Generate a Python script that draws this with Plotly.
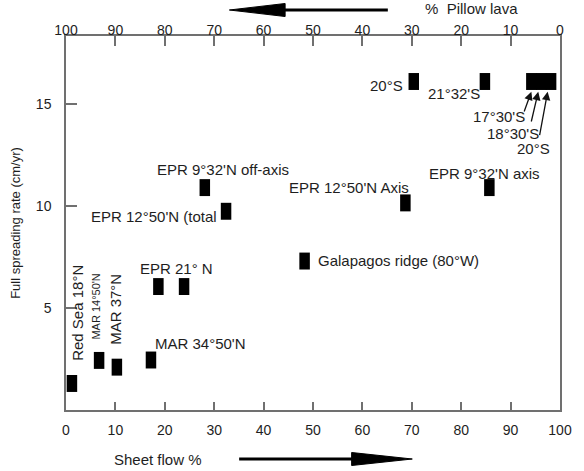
import plotly.graph_objects as go

# ---- data ----
sheet_flow = [1.2, 6.7, 10.3, 17.2, 18.7, 23.9, 32.4, 28.1, 68.7, 85.7, 48.3, 70.4, 84.8, 94.2, 96.2, 98.2]
spreading = [1.3, 2.43, 2.1, 2.45, 6.05, 6.05, 9.74, 10.9, 10.15, 10.9, 7.3, 16.1, 16.1, 16.1, 16.1, 16.1]

x_ticks = [0, 10, 20, 30, 40, 50, 60, 70, 80, 90, 100]
pillow_ticks = [100, 90, 80, 70, 60, 50, 40, 30, 20, 10, 0]
y_ticks = [5, 10, 15]

# label text, x, y, angle, font size
labels = [
    ("20°S", 64.9, 15.9, 0, 15),
    ("21°32'S", 78.6, 15.5, 0, 15),
    ("17°30'S", 87.6, 14.4, 0, 15),
    ("18°30'S", 90.4, 13.55, 0, 15),
    ("20°S", 94.7, 12.8, 0, 15),
    ("EPR 9°32'N axis", 84.7, 11.6, 0, 15),
    ("EPR 12°50'N Axis", 57.2, 10.9, 0, 15),
    ("Galapagos ridge (80°W)", 67.4, 7.33, 0, 15),
    ("EPR 9°32'N off-axis", 31.7, 11.8, 0, 15),
    ("EPR 12°50'N (total", 17.9, 9.49, 0, 15),
    ("EPR 21° N", 22.4, 6.94, 0, 15),
    ("MAR 34°50'N", 27.3, 3.26, 0, 15),
    ("Red Sea 18°N", 2.3, 4.78, -90, 15),
    ("MAR 14°50'N", 6.0, 5.05, -90, 11),
    ("MAR 37°N", 10.0, 4.93, -90, 15),
]

# arrows to the right-hand cluster: tip (data), tail offset (px)
cluster_arrows = [
    (94.2, 15.6, -7.7, 21.3),
    (95.6, 15.6, -7.3, 31.3),
    (97.5, 15.6, -8.3, 45.0),
]

FONT = "Liberation Sans, Arial, sans-serif"
AX = "#707070"
TXT = "#1e1e1e"

fig = go.Figure()
fig.add_trace(go.Scatter(
    x=sheet_flow, y=spreading, mode="markers",
    marker=dict(symbol="line-ns", size=12.1, color="black",
                line=dict(color="black", width=10.5)),
    hoverinfo="skip", showlegend=False,
))
# dummy trace on top axis so it is drawn
fig.add_trace(go.Scatter(x=[None], y=[None], xaxis="x2", yaxis="y",
                         mode="markers", showlegend=False, hoverinfo="skip"))

for t, x, y, ang, fs in labels:
    fig.add_annotation(x=x, y=y, text=t, showarrow=False, textangle=ang,
                       xanchor="center", yanchor="middle",
                       font=dict(family=FONT, size=fs, color=TXT))

for x, y, ax, ay in cluster_arrows:
    fig.add_annotation(x=x, y=y, text="", showarrow=True, ax=ax, ay=ay,
                       arrowhead=2, arrowsize=1.3, arrowwidth=1.3,
                       arrowcolor="#111", standoff=0)

# margin arrows (paper coordinates)
def px2paper(px, py):
    return (px - 66) / 505.0, (410 - py) / 374.0

# bottom arrow (right-pointing)
x0, y0 = px2paper(243, 459)
x1, _ = px2paper(362, 459)
fig.add_shape(type="line", xref="paper", yref="paper", x0=x0, y0=y0, x1=x1, y1=y0,
              line=dict(color="black", width=3))
hx, hy1 = px2paper(358, 452.5)
_, hy2 = px2paper(358, 465.5)
tx, ty = px2paper(420, 459)
fig.add_shape(type="path", xref="paper", yref="paper",
              path=f"M{hx},{hy1} L{tx},{ty} L{hx},{hy2} Z",
              fillcolor="black", line=dict(color="black", width=1))

# top arrow (left-pointing)
x0, y0 = px2paper(395, 10)
x1, _ = px2paper(286, 10)
fig.add_shape(type="line", xref="paper", yref="paper", x0=x0, y0=y0, x1=x1, y1=y0,
              line=dict(color="black", width=3))
hx, hy1 = px2paper(290, 3.5)
_, hy2 = px2paper(290, 16.5)
tx, ty = px2paper(233, 10)
fig.add_shape(type="path", xref="paper", yref="paper",
              path=f"M{hx},{hy1} L{tx},{ty} L{hx},{hy2} Z",
              fillcolor="black", line=dict(color="black", width=1))

# margin texts
lx, ly = px2paper(113, 459)
fig.add_annotation(xref="paper", yref="paper", x=lx, y=ly, text="Sheet flow %",
                   showarrow=False, xanchor="left", yanchor="middle",
                   font=dict(family=FONT, size=15, color=TXT))
lx, ly = px2paper(431, 9)
fig.add_annotation(xref="paper", yref="paper", x=lx, y=ly, text="%  Pillow lava",
                   showarrow=False, xanchor="left", yanchor="middle",
                   font=dict(family=FONT, size=15, color=TXT))

fig.update_layout(
    width=584, height=471,
    margin=dict(l=66, r=13, t=36, b=61),
    plot_bgcolor="white", paper_bgcolor="white",
    font=dict(family=FONT, size=14, color=TXT),
    showlegend=False,
    xaxis=dict(range=[0, 100], tickvals=x_ticks, ticktext=[str(v) for v in x_ticks],
               ticks="inside", ticklen=8, tickwidth=1.5, tickcolor=AX,
               showline=True, linecolor=AX, linewidth=1.5, mirror=True,
               showgrid=False, zeroline=False, ticklabelstandoff=6),
    xaxis2=dict(range=[100, 0], overlaying="x", side="top", anchor="y",
                tickvals=pillow_ticks, ticktext=[str(v) for v in pillow_ticks],
                ticks="inside", ticklen=10, tickwidth=1.5, tickcolor=AX,
                showline=True, linecolor=AX, linewidth=1.5,
                showgrid=False, zeroline=False, ticklabelstandoff=-6),
    yaxis=dict(range=[0, 18.33], tickvals=y_ticks, ticktext=[str(v) for v in y_ticks],
               ticks="inside", ticklen=11, tickwidth=1.5, tickcolor=AX,
               showline=True, linecolor=AX, linewidth=1.5, mirror=True,
               showgrid=False, zeroline=False, ticklabelstandoff=10,
               title=dict(text="Full spreading rate (cm/yr)",
                          font=dict(family=FONT, size=13, color=TXT),
                          standoff=12)),
)

fig.write_html("out.html")
